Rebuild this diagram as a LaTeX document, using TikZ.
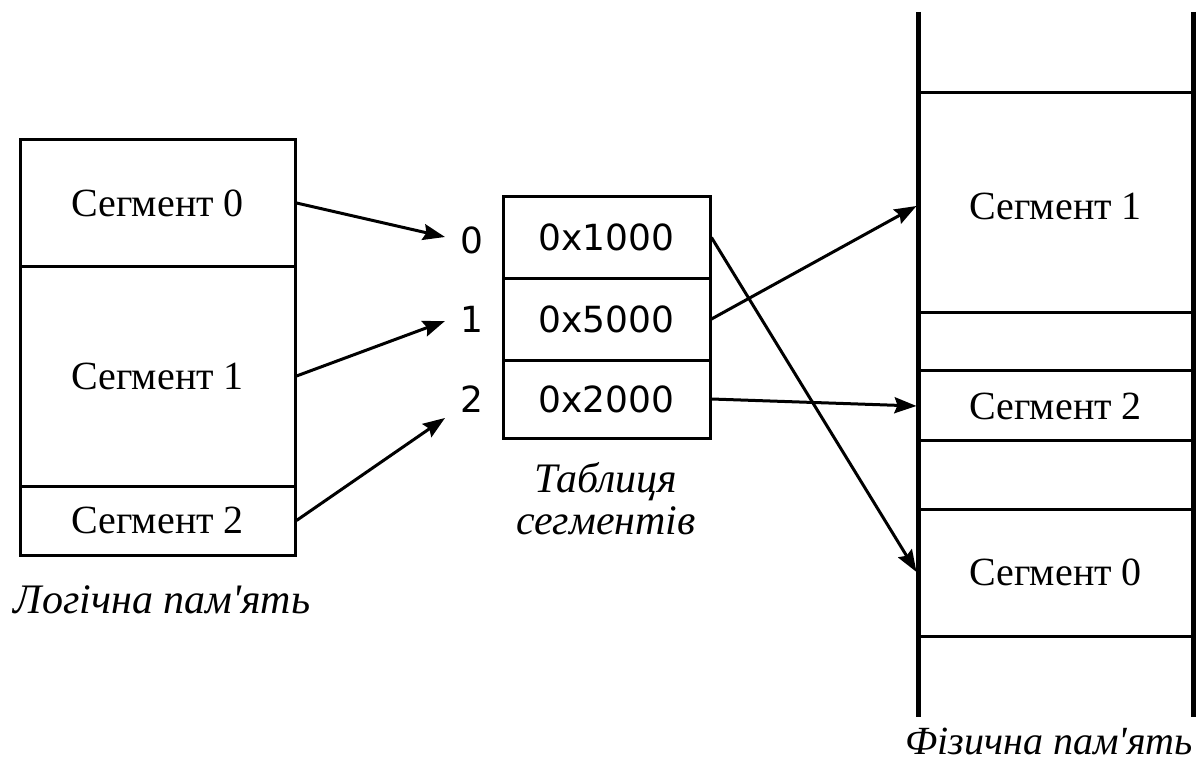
\documentclass[tikz,border=0pt]{standalone}
\usepackage{fontspec}
\setmainfont{Liberation Serif}
\newfontfamily\capfont[Ligatures=TeXOff]{Liberation Serif}
\newfontfamily\hexfont{DejaVu Sans}
\usetikzlibrary{arrows.meta}

\begin{document}
\begin{tikzpicture}[x=1pt,y=-1pt,line width=3pt,
  seglabel/.style={font=\fontsize{40}{44}\selectfont},
  caption/.style={font=\capfont\fontsize{42}{42}\selectfont\itshape,align=center},
  lseg/.style={draw,minimum width=275pt,inner sep=0pt,seglabel},
  cell/.style={draw,minimum width=207pt,inner sep=0pt,font=\hexfont\fontsize{36}{40}\selectfont},
  idx/.style={inner sep=0pt,font=\hexfont\fontsize{36}{40}\selectfont},
  pseg/.style={minimum width=275pt,inner sep=0pt,seglabel},
  link/.style={-{Stealth[length=22pt,width=16pt,inset=3pt]}},
  bar/.style={line width=5pt}]

\useasboundingbox (0,0) rectangle (1202,762);

% logical memory
\node[lseg,minimum height=126pt] (ls0) at (157.5,203) {Сегмент 0};
\node[lseg,minimum height=220pt] (ls1) at (157.5,376) {Сегмент 1};
\node[lseg,minimum height=69pt]  (ls2) at (157.5,520.5) {Сегмент 2};
\node[caption] (lcap) at (162,600) {Логічна пам'ять};

% segment table
\node[cell,minimum height=81pt] (t0) at (606.5,237.5) {0x1000};
\node[cell,minimum height=82pt] (t1) at (606.5,319) {0x5000};
\node[cell,minimum height=78pt] (t2) at (606.5,399) {0x2000};
\node[idx] (i0) at (472,240) {0};
\node[idx] (i1) at (472,319) {1};
\node[idx] (i2) at (472,399) {2};
\node[caption] (tcap) at (606,499) {Таблиця\\сегментів};

\coordinate (in0) at (445,237);
\coordinate (in1) at (445,321);
\coordinate (in2) at (445,418);

% physical memory
\draw[bar] (918,12) -- (918,717);
\draw[bar] (1193,12) -- (1193,717);
\foreach \y in {93,312,370,440,509,636}
  \draw (918,\y) -- (1193,\y);
\node[pseg] (p1) at (1055.5,206) {Сегмент 1};
\node[pseg] (p2) at (1055.5,406) {Сегмент 2};
\node[pseg] (p0) at (1055.5,572) {Сегмент 0};
\node[caption,font=\capfont\fontsize{40}{42}\selectfont\itshape] (pcap) at (1049,741) {Фізична пам'ять};

% mappings
\draw[link] (ls0.east) -- (in0);
\draw[link] (ls1.east) -- (in1);
\draw[link] (ls2.east) -- (in2);
\draw[link] (t0.east) -- (p0.west);
\draw[link] (t1.east) -- (p1.west);
\draw[link] (t2.east) -- (p2.west);
\end{tikzpicture}
\end{document}
